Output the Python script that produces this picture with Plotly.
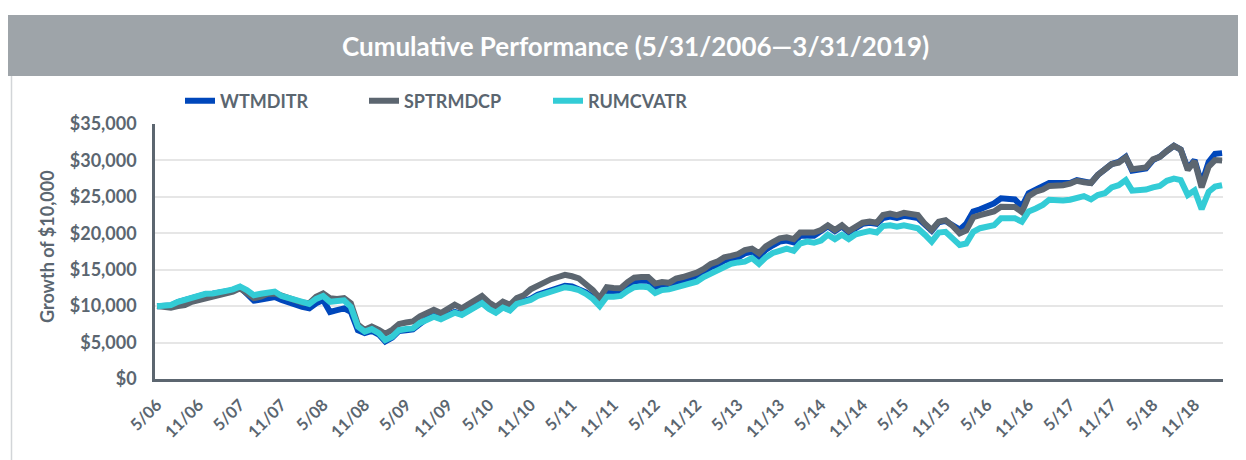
import calendar
import plotly.graph_objects as go

# ---------------- data ----------------
start_year, start_month, n_months = 2006, 5, 155
dates = []
y, m = start_year, start_month
for _ in range(n_months):
    dates.append(f"{y}-{m:02d}-{calendar.monthrange(y, m)[1]:02d}")
    m += 1
    if m > 12:
        m = 1
        y += 1

wtmditr = [
    10000, 10100, 10100, 10550, 10800, 11200, 11400, 11650, 11700, 11800, 12050, 12200,
    12600, 11700, 10750, 10900, 11100, 11250, 10850, 10500, 10150, 9900, 9700, 10400,
    10850, 9200, 9450, 9700, 9200, 6700, 6300, 6600, 6100, 5150, 5700, 6600,
    6700, 6800, 7550, 8300, 8650, 8300, 8800, 9200, 8900, 9400, 10000, 10500,
    9700, 9200, 9900, 9500, 10400, 10700, 11000, 11550, 11850, 12050, 12300, 12800,
    12700, 12400, 11900, 11200, 10300, 12000, 12000, 12000, 12800, 13400, 13500, 13500,
    12600, 12900, 12900, 13300, 13500, 13750, 14100, 14650, 15350, 15650, 16250, 16450,
    16700, 17250, 17450, 16800, 17750, 18350, 18850, 19000, 18750, 19650, 19750, 19650,
    20300, 20950, 20300, 20950, 20150, 20850, 21300, 21450, 21300, 22100, 22300, 22100,
    22400, 22250, 22100, 21200, 20350, 21500, 21700, 21100, 20500, 21300, 23000, 23300,
    23650, 24100, 24800, 24800, 24650, 23650, 25500, 26000, 26400, 26900, 26900, 26800,
    26900, 27300, 27100, 26900, 28000, 28900, 29500, 29800, 30500, 28600, 28800, 28900,
    30050, 30500, 31300, 32000, 31500, 28900, 30050, 26800, 29800, 30900, 31000,
]

sptrmdcp = [
    10000, 9900, 9800, 10000, 10150, 10600, 10850, 11100, 11300, 11400, 11700, 12000,
    12450, 11850, 11100, 11300, 11700, 11750, 11400, 11100, 10800, 10500, 10400, 11300,
    11750, 11100, 11000, 11100, 10400, 7450, 6750, 7200, 6750, 6200, 6750, 7550,
    7750, 7900, 8600, 9100, 9500, 9050, 9600, 10200, 9700, 10300, 11000, 11400,
    10500, 9900, 10600, 10200, 11100, 11500, 12300, 12800, 13300, 13700, 14000, 14300,
    14100, 13800, 13000, 12200, 11100, 12600, 12500, 12450, 13300, 13900, 14000, 14000,
    13100, 13300, 13200, 13800, 14000, 14200, 14600, 15100, 15800, 16100, 16700, 16900,
    17150, 17700, 17900, 17250, 18200, 18800, 19300, 19450, 19200, 20100, 20200, 20100,
    20450, 21100, 20450, 21100, 20300, 21000, 21450, 21600, 21450, 22500, 22700, 22500,
    22800, 22650, 22500, 21300, 20450, 21600, 21800, 21000, 20000, 20400, 22200, 22500,
    22700, 23000, 23650, 23650, 23600, 22900, 25100, 25700, 26000, 26500, 26500, 26600,
    26800, 27200, 27000, 26900, 28000, 28800, 29500, 29700, 30400, 28800, 28900, 29050,
    30150, 30500, 31300, 32000, 31500, 28700, 29900, 26300, 29150, 30050, 30000,
]

rumcvatr = [
    10000, 10150, 10150, 10600, 10850, 11200, 11400, 11700, 11750, 11850, 12100, 12300,
    12700, 12200, 11500, 11700, 11850, 12000, 11400, 11100, 10800, 10500, 10300, 11000,
    11400, 10600, 10600, 10800, 9900, 7200, 6500, 6850, 6300, 5350, 5800, 6700,
    6850, 6950, 7700, 8200, 8550, 8200, 8700, 9100, 8800, 9300, 9900, 10400,
    9600, 9100, 9800, 9400, 10300, 10600, 10850, 11400, 11700, 11900, 12100, 12600,
    12450, 12200, 11700, 11000, 10000, 11300, 11300, 11400, 12100, 12600, 12700, 12600,
    11800, 12200, 12300, 12600, 12800, 13100, 13350, 14000, 14500, 14900, 15400, 15800,
    16000, 16100, 16600, 15800, 16700, 17300, 17600, 17900, 17600, 18600, 18850, 18700,
    19000, 19800, 19200, 19800, 19200, 19850, 20100, 20300, 20100, 21000, 21100, 20900,
    21100, 20900, 20700, 19800, 18850, 20100, 20200, 19300, 18400, 18600, 20200, 20700,
    20900, 21100, 22050, 22050, 22050, 21600, 23000, 23400, 23900, 24600, 24500, 24500,
    24600, 24950, 25100, 24650, 25250, 25500, 26300, 26600, 27300, 25850, 25900, 26000,
    26300, 26500, 27200, 27500, 27300, 25250, 25900, 23300, 25700, 26400, 26600,
]

tick_labels = [
    "5/06", "11/06", "5/07", "11/07", "5/08", "11/08", "5/09", "11/09", "5/10", "11/10",
    "5/11", "11/11", "5/12", "11/12", "5/13", "11/13", "5/14", "11/14", "5/15", "11/15",
    "5/16", "11/16", "5/17", "11/17", "5/18", "11/18",
]
tick_dates = dates[::6][:len(tick_labels)]

series = [
    ("WTMDITR", wtmditr, "#0047bb"),
    ("SPTRMDCP", sptrmdcp, "#5c6670"),
    ("RUMCVATR", rumcvatr, "#33ccd6"),
]

# ---------------- figure ----------------
TXT = "#5b6670"
FONT = "Lato"

fig = go.Figure()
for name, vals, col in series:
    fig.add_trace(go.Scatter(
        x=dates, y=vals, name=name, mode="lines",
        line=dict(color=col, width=6, shape="linear"),
    ))

# reference-pixel geometry (page has an 8px body margin)
OFF = 8
W, H = 1246 - OFF, 460 - OFF
X0, X1, Y0, Y1 = 155, 1223, 124, 379          # plot area in page pixels
L, R, T, B = X0 - OFF, W - (X1 - OFF), Y0 - OFF, H - (Y1 - OFF)
pw, ph = X1 - X0, Y1 - Y0

def px_x(px):
    return (px - X0) / pw

def px_y(py):
    return (Y1 - py) / ph

fig.update_layout(
    width=W, height=H,
    margin=dict(l=L, r=R, t=T, b=B, autoexpand=False),
    paper_bgcolor="white", plot_bgcolor="white",
    font=dict(family=FONT, color=TXT, size=16),
    showlegend=True,
    legend=dict(
        orientation="h", x=px_x(180), y=px_y(101), xanchor="left", yanchor="middle",
        font=dict(family=FONT, size=18, color=TXT, weight="bold"),
        entrywidth=139, entrywidthmode="pixels",
        bgcolor="rgba(0,0,0,0)", traceorder="normal",
    ),
    xaxis=dict(
        type="date",
        range=["2006-05-22", "2019-04-04"],
        tickmode="array", tickvals=tick_dates, ticktext=tick_labels,
        tickangle=-45,
        tickfont=dict(family=FONT, size=16.5, color=TXT, weight="bold"),
        showgrid=False, zeroline=False,
        showline=True, linecolor="#5c6670", linewidth=2.5,
        ticks="", ticklabelstandoff=7,
    ),
    yaxis=dict(
        range=[0, 35000], dtick=5000, tick0=0,
        tickformat="$,.0f",
        tickfont=dict(family=FONT, size=18, color=TXT, weight="bold"),
        showgrid=True, gridcolor="#e6e6e6", gridwidth=1.5,
        zeroline=False,
        showline=True, linecolor="#5c6670", linewidth=2.5,
        ticks="", ticklabelstandoff=12,
    ),
    shapes=[
        dict(type="rect", xref="paper", yref="paper",
             x0=px_x(4), x1=px_x(1260), y0=px_y(76), y1=px_y(15),
             fillcolor="#9ea4a9", line=dict(width=0), layer="below"),
        dict(type="line", xref="paper", yref="paper",
             x0=px_x(11.5), x1=px_x(11.5), y0=px_y(470), y1=px_y(76),
             line=dict(color="#d2d5d8", width=1.5)),
    ],
    annotations=[
        dict(text="Cumulative Performance (5/31/2006\u20143/31/2019)",
             xref="paper", yref="paper", x=px_x(635), y=px_y(46),
             xanchor="center", yanchor="middle", showarrow=False,
             font=dict(family=FONT, size=26, color="white", weight="bold")),
        dict(text="Growth of $10,000", textangle=-90,
             xref="paper", yref="paper", x=px_x(47), y=px_y(247),
             xanchor="center", yanchor="middle", showarrow=False,
             font=dict(family=FONT, size=18, color=TXT, weight="bold")),
    ],
)

fig.write_html("out.html")
